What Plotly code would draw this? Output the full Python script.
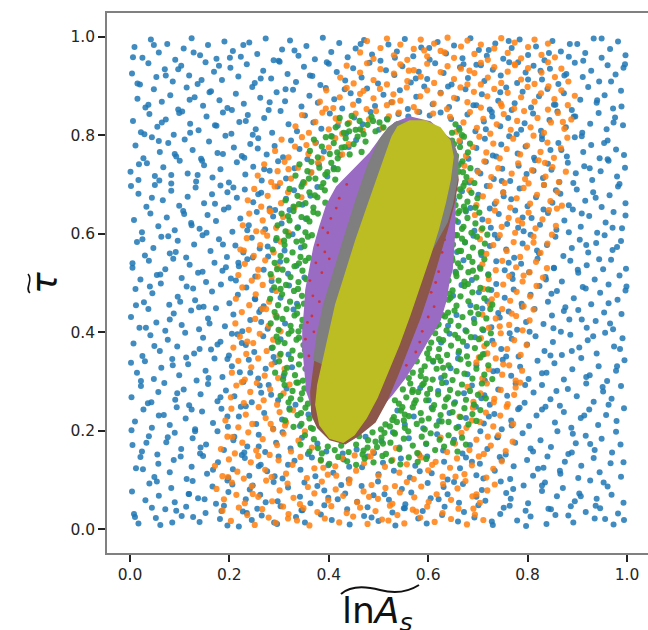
import plotly.graph_objects as go

# ---------------- data (per-mille units, flat x,y pairs) ----------------
BLUE_XY = [
 8,31, 17,12, 44,44, 52,23, 61,9, 93,38, 104,27, 113,46, 140,15, 152,33, 181,21, 189,48, 196,8, 227,36, 245,19, 256,42, 265,28, 296,11, 303,47, 334,25, 345,39, 352,14, 384,30, 391,49, 406,19, 437,41, 442,10, 471,27, 478,45, 500,17, 528,34, 534,8, 551,43, 580,22, 589,37, 597,12, 628,29, 633,46, 660,16, 672,35, 693,24, 701,49, 730,9, 745,31, 752,44, 779,18, 796,38, 806,26, 838,11, 847,41, 856,29, 887,47, 892,14, 917,35, 935,22, 946,43, 973,10, 982,32, 994,19,
 4,77, 31,59, 39,93, 58,68, 83,84, 90,55, 119,72, 126,98, 137,63, 166,87, 173,52, 198,76, 206,91, 233,61, 241,81, 262,70, 289,96, 297,57, 318,85, 342,66, 351,95, 363,53, 391,79, 399,64, 425,90, 433,73, 457,56, 466,88, 490,69, 499,97, 521,60, 547,82, 554,51, 566,75, 599,94, 605,63, 631,86, 639,71, 662,54, 670,92, 697,66, 708,80, 715,58, 746,97, 757,74, 766,62, 792,89, 801,53, 829,78, 835,95, 859,67, 871,84, 895,57, 904,73, 926,99, 939,62, 961,87, 969,70, 993,54,
 12,124, 21,147, 49,106, 57,133, 80,116, 88,141, 114,102, 124,127, 147,149, 155,113, 177,136, 198,104, 207,122, 231,145, 240,109, 263,131, 276,118, 299,148, 307,103, 331,139, 343,121, 366,146, 373,108, 399,130, 409,115, 430,142, 440,101, 467,126, 478,148, 500,112, 509,135, 531,119, 545,144, 563,105, 574,129, 598,148, 607,114, 632,137, 639,101, 664,124, 676,146, 697,110, 704,133, 734,119, 744,147, 765,102, 772,128, 799,141, 811,109, 832,125, 840,148, 866,113, 875,137, 902,104, 908,129, 933,145, 945,116, 967,134, 988,107,
 5,171, 24,158, 38,189, 55,152, 73,177, 90,196, 103,163, 126,185, 141,154, 153,172, 176,199, 189,161, 208,181, 225,151, 236,168, 259,192, 272,157, 294,176, 307,197, 323,164, 346,186, 358,153, 377,174, 395,158, 428,154, 456,162, 474,188, 491,155, 506,179, 529,197, 542,166, 561,185, 582,151, 596,173, 618,193, 630,160, 652,182, 669,154, 684,171, 705,199, 719,163, 740,187, 756,152, 775,176, 790,195, 811,158, 826,181, 847,167, 860,199, 882,153, 897,175, 917,190, 935,161, 949,184, 970,156, 987,172,
 10,219, 27,243, 44,206, 58,231, 80,212, 94,248, 112,225, 131,203, 145,239, 167,216, 184,245, 197,208, 219,229, 233,250, 254,214, 270,236, 288,204, 306,223, 321,246, 342,210, 359,233, 538,241, 553,213, 571,229, 590,205, 607,247, 622,220, 643,236, 661,208, 676,226, 696,249, 712,215, 733,234, 748,203, 767,221, 781,244, 803,210, 818,231, 836,249, 855,217, 873,238, 888,206, 907,226, 924,243, 942,212, 958,232, 979,220, 994,246,
 3,268, 22,291, 36,256, 57,279, 69,297, 91,263, 108,284, 119,252, 142,274, 157,295, 176,260, 193,282, 210,270, 228,299, 245,258, 264,277, 279,293, 298,262, 315,286, 333,253, 584,287, 601,262, 620,281, 636,298, 654,258, 672,276, 688,292, 707,266, 724,253, 741,284, 759,271, 776,296, 794,257, 812,278, 829,293, 846,264, 865,251, 881,285, 899,270, 918,296, 933,259, 952,280, 969,265, 988,291,
 14,318, 30,341, 48,305, 63,328, 85,346, 99,313, 117,335, 134,302, 152,322, 170,347, 186,309, 205,331, 221,319, 239,344, 258,306, 273,326, 292,339, 309,311, 326,329, 610,340, 626,307, 645,327, 660,347, 679,315, 697,333, 714,302, 731,321, 750,344, 767,312, 785,330, 802,305, 820,342, 838,318, 854,337, 873,304, 890,325, 908,348, 925,313, 943,331, 960,301, 978,322, 995,343,
 7,377, 25,352, 41,394, 60,362, 76,385, 95,371, 111,399, 129,357, 147,389, 163,365, 182,381, 199,353, 216,396, 233,374, 250,360, 268,392, 285,368, 303,386, 319,355, 626,379, 643,397, 661,358, 678,372, 694,390, 713,356, 729,383, 747,366, 764,398, 782,351, 799,375, 816,392, 834,362, 851,380, 869,354, 886,395, 904,369, 921,384, 939,357, 956,399, 974,371, 991,388,
 2,431, 19,409, 37,447, 53,420, 71,403, 88,438, 104,415, 123,444, 139,406, 157,428, 173,449, 191,412, 208,436, 226,402, 242,425, 260,441, 277,407, 295,433, 312,418, 329,446, 640,413, 657,435, 675,404, 692,427, 709,448, 727,410, 744,430, 762,442, 779,405, 797,421, 814,447, 832,417, 849,434, 867,401, 884,426, 902,445, 919,409, 937,423, 954,440, 972,406, 989,437,
 11,488, 28,461, 45,479, 62,499, 79,456, 96,472, 114,493, 131,465, 148,452, 165,483, 183,497, 200,459, 217,476, 234,491, 252,467, 269,453, 286,486, 303,470, 320,495, 336,458, 650,474, 667,496, 685,455, 702,481, 719,463, 737,498, 754,470, 772,487, 789,452, 806,476, 824,494, 841,462, 859,484, 876,451, 893,469, 911,492, 928,457, 946,480, 963,497, 981,466, 997,485,
 5,531, 21,507, 38,545, 54,516, 71,528, 87,549, 104,510, 120,537, 137,521, 153,502, 170,541, 186,525, 203,509, 219,534, 236,548, 252,513, 269,527, 285,504, 302,543, 318,519, 335,535, 351,511, 655,523, 671,546, 688,506, 704,532, 721,518, 737,544, 754,526, 770,508, 787,539, 803,522, 820,549, 836,512, 853,530, 869,503, 886,545, 902,521, 919,536, 935,507, 952,528, 968,547, 985,515,
 14,583, 30,556, 47,571, 63,594, 80,560, 96,586, 113,552, 129,578, 146,597, 162,565, 179,589, 195,553, 212,576, 228,562, 245,592, 261,570, 278,554, 294,587, 311,566, 327,599, 344,572, 658,563, 674,582, 691,596, 707,557, 724,575, 740,591, 757,568, 773,551, 790,580, 806,598, 823,560, 839,577, 856,594, 872,555, 889,571, 905,588, 922,562, 938,581, 955,597, 971,567, 988,585,
 8,628, 24,603, 41,641, 57,615, 74,633, 90,607, 107,646, 123,622, 140,610, 156,638, 173,626, 189,649, 206,604, 222,631, 239,617, 255,644, 272,609, 288,635, 305,621, 321,648, 338,613, 354,630, 660,624, 676,645, 693,606, 709,629, 726,612, 742,640, 759,620, 775,647, 792,605, 808,632, 825,618, 841,642, 858,608, 874,627, 891,649, 907,614, 924,636, 940,602, 957,623, 973,644, 990,611,
 17,681, 33,655, 50,699, 66,668, 83,687, 99,657, 116,675, 132,694, 149,662, 165,680, 182,698, 198,653, 215,673, 231,690, 248,664, 264,683, 281,651, 297,696, 314,671, 330,688, 347,659, 363,677, 377,695, 652,669, 668,686, 685,652, 701,679, 718,697, 734,661, 751,684, 767,670, 784,692, 800,656, 817,674, 833,699, 850,663, 866,681, 883,658, 899,690, 916,667, 932,684, 949,654, 965,678, 982,696, 997,662,
 1,726, 17,709, 34,743, 50,717, 67,735, 83,702, 100,748, 116,722, 133,706, 149,739, 166,714, 182,731, 199,704, 215,745, 232,720, 248,736, 265,708, 281,728, 298,747, 314,712, 331,733, 347,701, 364,724, 380,741, 397,716, 410,734, 650,719, 666,742, 683,704, 699,728, 716,746, 732,711, 749,732, 765,707, 782,738, 798,721, 815,749, 831,713, 848,730, 864,705, 881,744, 897,723, 914,737, 930,709, 947,727, 963,748, 980,716, 996,734,
 11,779, 27,753, 44,796, 60,766, 77,784, 93,757, 110,791, 126,770, 143,752, 159,787, 176,764, 192,799, 209,775, 225,758, 242,782, 258,794, 275,761, 291,778, 308,755, 324,789, 341,772, 357,751, 374,785, 390,767, 407,797, 423,760, 440,776, 455,790, 648,768, 664,786, 681,752, 697,774, 714,793, 730,759, 747,781, 763,798, 780,763, 796,777, 813,754, 829,792, 846,770, 862,784, 879,757, 895,796, 912,766, 928,780, 945,753, 961,789, 978,771, 994,760,
 6,829, 22,806, 39,843, 55,817, 72,832, 88,801, 105,848, 121,823, 138,810, 154,838, 171,820, 187,846, 204,803, 220,827, 237,841, 253,812, 270,835, 286,805, 303,849, 319,822, 336,808, 352,840, 369,826, 385,813, 402,844, 418,819, 435,804, 451,836, 468,822, 484,847, 501,811, 517,833, 540,843, 560,838, 582,847, 603,840, 625,846, 646,833, 662,815, 679,842, 695,808, 712,828, 728,847, 745,818, 761,835, 778,802, 794,824, 811,844, 827,809, 844,831, 860,848, 877,816, 893,838, 910,805, 926,823, 943,845, 959,812, 976,836, 992,820,
 15,874, 31,856, 48,893, 64,868, 81,881, 97,852, 114,897, 130,877, 147,860, 163,889, 180,871, 196,855, 213,884, 229,864, 246,898, 262,876, 279,851, 295,887, 312,869, 328,892, 345,858, 361,880, 378,866, 394,896, 411,873, 427,854, 444,885, 460,870, 477,895, 493,859, 510,882, 526,867, 543,891, 559,853, 576,878, 592,899, 609,863, 625,886, 642,857, 658,874, 675,893, 691,861, 708,883, 724,852, 741,870, 757,897, 774,865, 790,888, 807,856, 823,879, 840,894, 856,862, 873,885, 889,851, 906,872, 922,898, 939,866, 955,881, 972,854, 988,890,
 4,925, 20,903, 37,946, 53,918, 70,934, 86,909, 103,941, 119,921, 136,904, 152,948, 169,929, 185,912, 202,937, 218,919, 235,944, 251,906, 268,931, 284,915, 301,949, 317,924, 334,908, 350,939, 367,920, 383,902, 400,945, 416,928, 433,911, 449,936, 466,917, 482,947, 499,905, 515,932, 532,922, 548,940, 565,907, 581,929, 598,914, 614,946, 631,926, 647,903, 664,938, 680,916, 697,943, 713,910, 730,933, 746,921, 763,948, 779,906, 796,927, 812,941, 829,913, 845,935, 862,904, 878,924, 895,947, 911,918, 928,931, 944,909, 961,942, 977,923, 993,937,
 9,979, 25,957, 42,994, 58,968, 75,985, 91,953, 108,976, 124,997, 141,962, 157,983, 174,955, 190,990, 207,971, 223,959, 240,988, 256,965, 273,996, 289,952, 306,974, 322,992, 339,961, 355,981, 372,954, 388,998, 405,969, 421,987, 438,958, 454,976, 471,993, 487,964, 504,951, 520,984, 537,970, 553,995, 570,960, 586,978, 603,953, 619,989, 636,966, 652,982, 669,956, 685,997, 702,973, 718,961, 735,986, 751,955, 768,977, 784,994, 801,963, 817,980, 834,952, 850,991, 867,970, 883,959, 900,985, 916,967, 933,996, 949,957, 966,975, 982,990, 997,962,
]

BLUE_EXTRA_XY = [
 15,905, 72,921, 128,968, 201,957, 263,915, 37,862, 99,845, 160,887, 233,829, 281,867, 58,788, 121,805, 187,762, 247,801, 18,741, 83,719, 145,748, 208,694, 270,731, 44,673, 109,640, 171,661, 236,607, 292,648, 25,589, 92,563, 154,602, 218,541, 277,574, 61,517, 127,489, 193,532, 251,468, 12,455, 80,426, 139,451, 205,397, 264,421, 49,372, 113,349, 176,375, 242,318, 289,350, 22,301, 95,276, 158,307, 223,249, 284,273, 68,232, 131,199, 196,229, 259,168, 33,176, 102,148, 167,121, 230,156, 291,108, 54,97, 118,72, 184,37, 247,89, 10,25, 85,14, 150,61, 219,6, 273,55,
 6,958, 48,983, 97,934, 144,912, 179,941, 228,983, 299,951, 120,872, 205,851, 64,826, 29,802, 174,819, 257,773, 90,762, 136,719, 230,754, 2,697, 59,708, 196,684, 258,680, 124,617, 77,595, 187,578, 247,552, 5,540, 146,523, 40,493, 213,505, 101,462, 263,446, 160,418, 32,409, 225,378, 86,333, 140,366, 2,338, 196,346, 261,292, 43,258, 124,243, 182,268, 3,201, 76,187, 210,188, 142,166, 259,128, 26,122, 196,99, 71,41, 127,25, 235,33, 290,14,
 722,973, 781,948, 843,967, 912,951, 968,909, 745,887, 801,913, 874,921, 940,871, 989,858, 716,812, 768,851, 829,799, 896,838, 954,784, 737,757, 812,728, 868,770, 925,733, 985,701, 752,676, 790,633, 857,688, 909,641, 971,612, 734,598, 819,566, 883,603, 944,548, 998,529, 769,517, 848,478, 901,527, 963,459, 741,439, 804,401, 873,443, 932,392, 986,366, 757,351, 829,317, 889,362, 951,289, 713,272, 784,247, 858,281, 914,231, 978,198, 739,187, 806,164, 865,119, 926,173, 993,136, 711,103, 771,82, 842,42, 907,67, 956,21, 728,16, 797,7,
 706,942, 762,991, 826,931, 885,985, 949,996, 996,944, 729,838, 787,811, 853,862, 909,798, 973,826, 705,722, 748,707, 841,742, 892,703, 961,751, 724,651, 781,612, 832,649, 937,673, 997,637, 708,563, 762,541, 853,531, 918,577, 980,573, 727,486, 788,458, 837,507, 917,489, 999,493, 711,404, 768,387, 852,408, 909,426, 966,418, 739,322, 795,293, 846,353, 918,309, 980,331, 722,229, 768,211, 829,243, 891,194, 963,253, 748,141, 821,123, 889,156, 953,95, 764,48, 829,89, 882,28, 937,48,
 318,131, 377,88, 441,127, 512,71, 583,118, 652,96, 347,39, 418,61, 486,24, 553,43, 621,61, 688,137, 331,972, 396,948, 464,985, 533,957, 602,977, 671,944, 362,921, 432,893, 575,915, 640,899, 313,893, 697,861,
]

ORANGE_XY = [
 186,38, 203,17, 219,44, 236,29, 251,9, 266,41, 279,24, 293,13, 308,46, 319,31, 336,18, 349,43, 361,8, 377,35, 392,22, 405,47, 421,14, 436,33, 449,26, 463,44, 478,11, 494,37, 507,20, 523,48, 538,29, 552,12, 569,40, 584,24, 598,46, 613,15, 629,33, 646,21, 661,42, 678,10, 694,30, 711,19,
 174,82, 189,61, 205,95, 214,70, 231,53, 245,88, 258,66, 274,99, 286,57, 301,79, 317,93, 329,64, 342,51, 358,86, 371,73, 386,97, 399,59, 414,81, 429,68, 441,94, 457,55, 470,77, 486,90, 499,62, 514,84, 528,52, 543,75, 557,96, 572,65, 586,87, 601,56, 617,71, 630,92, 646,60, 659,83, 675,98, 689,67, 704,54, 719,79, 734,91,
 171,129, 186,108, 199,142, 216,117, 229,103, 243,136, 258,149, 272,121, 285,106, 299,140, 314,113, 327,131, 343,147, 356,104, 371,124, 384,139, 398,111, 413,128, 427,145, 442,101, 455,119, 471,134, 484,148, 500,109, 513,127, 528,141, 542,115, 557,132, 571,102, 586,146, 600,120, 615,137, 629,107, 644,125, 658,144, 673,112, 688,130, 702,148, 717,105, 731,123, 748,138,
 183,163, 196,188, 211,154, 226,176, 238,197, 254,160, 267,183, 281,151, 296,171, 309,194, 324,158, 339,180, 352,199, 366,166, 625,186, 638,157, 654,174, 667,196, 683,161, 697,182, 712,153, 726,170, 741,191, 756,159, 770,178, 489,158, 535,165, 580,154,
 192,221, 204,245, 218,207, 233,233, 246,214, 259,248, 273,226, 288,203, 301,238, 314,217, 328,242, 663,229, 677,206, 690,247, 704,218, 716,237, 731,209, 745,231, 758,249, 771,214, 312,211, 688,221,
 203,268, 214,292, 229,256, 242,279, 255,297, 269,262, 282,284, 296,253, 309,276, 321,294, 679,289, 691,259, 705,276, 718,296, 733,265, 746,283, 760,254, 773,273, 785,298,
 205,318, 218,342, 231,304, 244,329, 258,347, 271,312, 285,335, 298,307, 311,326, 697,339, 709,306, 722,325, 736,347, 749,314, 763,333, 776,302, 789,322, 702,349,
 208,369, 221,391, 234,356, 248,378, 261,397, 275,362, 288,385, 301,353, 706,388, 719,357, 732,376, 746,398, 759,366, 773,384, 786,354, 798,374, 713,372,
 212,418, 225,441, 239,405, 252,427, 266,447, 279,413, 293,434, 303,402, 709,436, 722,409, 736,428, 749,447, 763,415, 777,433, 790,404, 804,424, 812,446,
 213,468, 226,491, 240,455, 253,477, 267,496, 280,462, 294,484, 711,488, 724,457, 738,476, 751,497, 765,464, 778,482, 792,453, 805,473, 818,494, 728,467,
 218,516, 231,539, 245,505, 258,527, 272,546, 285,512, 297,533, 709,538, 722,508, 736,526, 749,545, 763,514, 777,532, 790,503, 804,522, 817,543, 831,511, 839,530,
 222,568, 235,591, 249,555, 262,577, 276,596, 289,562, 303,584, 704,589, 717,559, 731,577, 744,597, 758,565, 772,583, 785,553, 799,572, 812,594, 826,561, 840,580, 849,598,
 227,617, 240,641, 254,605, 267,627, 281,646, 294,612, 308,634, 318,603, 694,638, 707,608, 721,626, 734,647, 748,614, 762,632, 775,602, 789,621, 802,643, 816,611, 830,629, 843,648, 857,616,
 237,668, 250,691, 264,655, 277,677, 291,696, 304,662, 318,684, 331,653, 345,674, 683,688, 697,658, 710,676, 724,697, 737,665, 751,683, 765,653, 778,672, 792,693, 805,661, 819,679, 833,699, 846,666, 860,685, 869,657,
 257,718, 270,741, 284,705, 297,727, 311,746, 324,712, 338,734, 351,703, 365,725, 378,744, 673,738, 686,708, 700,726, 713,747, 727,715, 741,733, 754,703, 768,722, 781,743, 795,711, 809,729, 822,749, 836,716, 850,735, 863,705, 877,726,
 292,768, 305,791, 319,755, 332,777, 346,796, 359,762, 373,784, 386,753, 400,775, 413,794, 427,761, 440,782, 663,789, 676,758, 690,776, 703,797, 717,765, 731,783, 744,753, 758,772, 771,793, 785,761, 799,779, 812,799, 826,766, 840,785, 853,754, 867,774, 880,795,
 333,818, 346,841, 360,805, 373,827, 387,846, 400,812, 414,834, 427,803, 441,825, 454,844, 468,810, 481,832, 495,849, 508,815, 521,838, 644,837, 657,807, 671,826, 684,847, 698,815, 711,833, 725,803, 738,822, 752,843, 766,811, 779,829, 793,849, 806,816, 820,835, 833,805, 847,826, 861,845, 874,813, 888,832, 541,846, 578,848, 610,844,
 382,868, 395,891, 409,855, 422,877, 436,896, 449,862, 463,884, 476,853, 490,875, 503,894, 517,861, 530,883, 544,870, 557,897, 571,857, 584,879, 598,891, 611,864, 625,885, 638,853, 652,876, 665,897, 679,867, 692,888, 706,856, 719,879, 733,894, 746,864, 760,886, 773,854, 787,877, 800,898, 814,868, 827,885, 841,852, 854,873, 868,891, 881,861, 895,880,
 423,917, 436,941, 450,905, 463,927, 477,946, 490,912, 504,934, 517,903, 531,925, 544,944, 558,910, 571,932, 585,919, 598,945, 612,906, 625,928, 639,940, 652,914, 666,935, 679,903, 693,926, 706,947, 720,917, 733,938, 747,906, 760,929, 774,944, 787,913, 801,936, 814,904, 828,927, 841,948, 855,918, 868,935, 882,909,
 463,968, 477,991, 490,955, 504,977, 517,996, 531,962, 544,984, 558,953, 571,975, 585,994, 598,960, 612,986, 625,971, 639,998, 652,957, 666,980, 679,992, 693,965, 706,984, 720,953, 733,976, 747,997, 760,967, 774,988, 787,956, 801,979, 814,994, 828,963, 841,986, 855,958,
]

ORANGE_EXTRA_XY = [
 247,72, 318,22, 415,109, 533,88, 608,131, 691,42, 206,187, 283,214, 236,381, 274,447, 229,566, 268,604, 302,703, 355,780, 420,828, 470,890, 561,931, 633,968, 706,903, 775,942, 842,899, 871,827, 835,744, 859,651, 812,582, 792,515, 768,438, 751,335, 732,258, 720,188, 655,107, 576,36, 481,66, 389,125, 197,106, 225,299, 257,513, 283,645, 319,731, 394,854, 528,867, 592,972, 683,931, 748,859, 802,702, 781,627, 744,412, 776,288, 697,71, 520,18, 452,150,
]

GREEN_XY = [
 384,141, 401,133, 419,147, 437,138, 455,131, 472,144, 490,136, 508,149, 526,139, 544,132, 561,146, 579,137, 596,143,
 343,172, 352,191, 361,158, 370,183, 378,165, 386,154, 398,168, 412,161, 425,170, 440,157, 455,172, 461,189, 470,160, 479,181, 488,197, 497,167, 506,186, 515,153, 524,176, 533,194, 542,163, 551,184, 560,199, 569,170, 578,155, 587,188, 596,174, 605,195, 614,161, 623,182, 632,168, 641,191, 650,176, 659,158, 668,186, 676,172,
 312,221, 321,243, 329,208, 337,232, 345,214, 353,247, 361,225, 368,204, 376,238, 344,236, 505,203, 514,213, 523,209, 531,228, 537,218, 545,241, 553,206, 561,230, 569,248, 577,214, 585,236, 593,203, 601,225, 609,244, 617,211, 625,232, 633,249, 641,218, 649,238, 657,206, 665,228, 673,246, 681,213, 689,234, 697,220, 705,242, 627,219, 587,221, 551,221,
 303,271, 311,293, 319,258, 327,281, 335,298, 343,264, 351,286, 358,255, 324,266, 346,276, 533,262, 541,255, 549,284, 556,268, 564,296, 572,256, 580,279, 588,293, 596,262, 604,285, 612,252, 620,274, 628,297, 636,264, 644,283, 652,255, 660,276, 668,294, 676,263, 684,281, 692,253, 700,273, 708,296, 716,266, 568,279, 598,275, 640,268,
 292,318, 300,341, 308,304, 316,328, 324,346, 332,313, 340,335, 348,302, 353,326, 311,317, 561,307, 569,318, 577,341, 585,311, 593,331, 601,347, 609,304, 617,326, 625,342, 633,312, 641,333, 649,303, 657,321, 665,345, 673,316, 681,336, 689,306, 697,326, 705,349, 713,314, 721,333, 729,305, 595,305, 630,328,
 287,369, 295,391, 303,356, 311,378, 319,397, 327,363, 335,385, 343,353, 349,374, 298,381, 582,372, 590,390, 598,357, 606,379, 614,398, 622,366, 630,384, 638,354, 646,373, 654,395, 662,362, 670,381, 678,351, 686,390, 694,368, 702,386, 710,355, 718,377, 726,398, 620,350, 660,388,
 283,418, 291,441, 299,405, 307,427, 315,447, 323,413, 331,434, 339,402, 347,425, 295,430, 325,403, 598,411, 605,432, 613,449, 621,416, 629,435, 637,404, 645,423, 653,444, 661,413, 669,431, 677,402, 685,440, 693,419, 701,437, 709,406, 717,428, 725,447, 640,440, 611,420,
 282,468, 290,491, 298,455, 306,477, 314,496, 322,462, 330,484, 338,453, 346,474, 303,488, 618,461, 625,480, 633,497, 641,466, 649,485, 657,454, 665,473, 673,494, 681,463, 689,481, 697,451, 705,490, 713,469, 721,487, 729,456, 645,470, 680,498,
 283,518, 291,541, 299,505, 307,527, 315,546, 323,512, 331,534, 339,502, 347,525, 353,545, 296,528, 633,507, 641,527, 649,546, 657,514, 665,532, 673,503, 681,522, 689,543, 697,511, 705,529, 713,548, 721,516, 660,540, 690,525,
 287,568, 295,591, 303,555, 311,577, 319,596, 327,562, 335,584, 343,553, 351,575, 358,594, 310,586, 643,559, 650,578, 658,597, 666,565, 674,583, 682,553, 690,572, 698,594, 706,562, 714,580, 719,598, 668,590,
 297,617, 305,641, 313,605, 321,627, 329,646, 337,612, 345,634, 353,603, 361,625, 369,644, 318,636, 648,608, 655,627, 663,646, 671,614, 679,632, 687,602, 695,621, 703,643, 709,611, 675,648,
 313,668, 321,691, 329,655, 337,677, 345,696, 353,662, 361,684, 369,653, 377,674, 385,695, 393,663, 340,660, 648,688, 655,658, 663,676, 671,697, 679,665, 687,683, 695,653, 699,672,
 333,718, 341,741, 349,705, 357,727, 365,746, 373,712, 381,734, 389,703, 397,725, 405,744, 413,710, 418,731, 360,712, 646,738, 653,708, 661,726, 669,747, 677,715, 685,733, 693,703, 674,704,
 362,768, 370,791, 378,755, 386,777, 394,796, 402,762, 410,784, 418,753, 426,775, 434,794, 442,761, 450,782, 458,797, 466,766, 474,787, 405,798, 648,789, 656,758, 664,776, 672,797, 680,765, 684,783,
 414,816, 422,835, 430,805, 438,823, 446,839, 454,811, 462,829, 470,802, 478,821, 486,837, 494,808, 502,826, 510,816, 518,832, 648,805, 655,822, 663,811, 668,800,
]

GREEN_EXTRA_XY = [
 358,322, 352,364, 346,412, 350,458, 354,508, 360,551, 366,597, 378,641, 392,688, 410,731, 432,776, 463,812, 489,829, 652,782, 660,738, 664,690, 660,642, 655,597, 648,551, 641,505, 628,458, 616,412, 602,367, 586,322, 569,283, 548,248, 528,222, 512,196, 494,178, 478,166, 364,206, 372,232, 366,265, 338,298, 340,389, 336,438, 338,488, 340,540, 346,586, 356,631, 372,678, 393,720, 417,765, 441,808, 670,725, 672,655, 668,610, 662,565, 656,520, 643,478, 634,432, 622,386, 610,342, 591,296, 575,262, 553,233, 532,196, 509,174, 468,152,
]

RED_XY = [
 357,420, 381,462, 362,505, 374,541, 398,602, 368,474, 353,386, 366,433, 392,563, 404,631, 421,672, 436,700, 360,352, 370,401, 386,521, 415,652, 378,577, 401,549, 388,612,
 575,360, 588,402, 612,452, 556,333, 606,481, 621,523, 600,431, 583,380, 628,562, 615,501, 633,588,
]

# dense inner regions: outlines (data units)
PURPLE_X = [0.509, 0.483, 0.453, 0.416, 0.396, 0.382, 0.370, 0.362, 0.354, 0.352, 0.348, 0.348, 0.350, 0.352, 0.356, 0.366, 0.378, 0.402, 0.433, 0.467, 0.499, 0.527, 0.553, 0.579, 0.600, 0.624, 0.636, 0.642, 0.648, 0.652, 0.654, 0.652, 0.648, 0.634, 0.604, 0.563, 0.533]
PURPLE_Y = [0.800, 0.764, 0.733, 0.695, 0.658, 0.614, 0.571, 0.527, 0.486, 0.452, 0.405, 0.370, 0.345, 0.319, 0.279, 0.252, 0.226, 0.206, 0.182, 0.206, 0.242, 0.273, 0.307, 0.348, 0.385, 0.425, 0.466, 0.506, 0.527, 0.587, 0.658, 0.719, 0.760, 0.800, 0.827, 0.837, 0.825]
BROWN_X = [0.523, 0.584, 0.636, 0.656, 0.660, 0.652, 0.638, 0.622, 0.604, 0.584, 0.561, 0.539, 0.517, 0.493, 0.459, 0.433, 0.402, 0.378, 0.366, 0.364, 0.370, 0.378, 0.392, 0.410, 0.435, 0.459, 0.487]
BROWN_Y = [0.770, 0.807, 0.790, 0.749, 0.709, 0.662, 0.608, 0.553, 0.492, 0.431, 0.370, 0.315, 0.262, 0.218, 0.190, 0.174, 0.182, 0.206, 0.232, 0.279, 0.327, 0.385, 0.450, 0.514, 0.591, 0.668, 0.746]
GRAY_X = [0.370, 0.377, 0.390, 0.408, 0.431, 0.455, 0.479, 0.502, 0.520, 0.537, 0.604, 0.648, 0.660, 0.658, 0.648, 0.638, 0.563, 0.423]
GRAY_Y = [0.344, 0.395, 0.456, 0.517, 0.591, 0.668, 0.739, 0.790, 0.815, 0.827, 0.821, 0.790, 0.756, 0.709, 0.658, 0.624, 0.486, 0.320]
OLIVE_X = [0.527, 0.539, 0.563, 0.594, 0.624, 0.644, 0.650, 0.644, 0.634, 0.620, 0.604, 0.584, 0.563, 0.541, 0.519, 0.497, 0.475, 0.451, 0.429, 0.402, 0.382, 0.374, 0.378, 0.388, 0.400, 0.414, 0.433, 0.455, 0.479, 0.503]
OLIVE_Y = [0.796, 0.817, 0.829, 0.829, 0.815, 0.788, 0.756, 0.709, 0.662, 0.608, 0.557, 0.496, 0.435, 0.374, 0.319, 0.267, 0.226, 0.192, 0.177, 0.185, 0.212, 0.253, 0.293, 0.340, 0.395, 0.456, 0.517, 0.588, 0.658, 0.729]

X_TICKS = [0.0, 0.2, 0.4, 0.6, 0.8, 1.0]
X_TICK_TEXT = ["0.0", "0.2", "0.4", "0.6", "0.8", "1.0"]
Y_TICKS = [0.0, 0.2, 0.4, 0.6, 0.8, 1.0]
Y_TICK_TEXT = ["0.0", "0.2", "0.4", "0.6", "0.8", "1.0"]

BLUE = "#1f77b4"
ORANGE = "#ff7f0e"
GREEN = "#2ca02c"
RED = "#d62728"
PURPLE = "#9a6bc2"
BROWN = "#8c564b"
GRAY = "#7f7f7f"
OLIVE = "#bcbd22"


def split(flat):
    return [v / 1000 for v in flat[0::2]], [v / 1000 for v in flat[1::2]]


fig = go.Figure()


def add_points(flat, color, size, opacity):
    x, y = split(flat)
    fig.add_trace(go.Scatter(x=x, y=y, mode="markers", hoverinfo="skip",
                             marker=dict(color=color, size=size, opacity=opacity,
                                         line=dict(width=0)),
                             showlegend=False))


def add_blob(x, y, color):
    fig.add_trace(go.Scatter(x=x + x[:1], y=y + y[:1], mode="lines", fill="toself",
                             fillcolor=color, hoverinfo="skip",
                             line=dict(color=color, width=1.5),
                             showlegend=False))


add_points(BLUE_XY + BLUE_EXTRA_XY, BLUE, 6.0, 0.85)
add_points(ORANGE_XY + ORANGE_EXTRA_XY, ORANGE, 6.2, 0.85)
add_points(GREEN_XY + GREEN_EXTRA_XY, GREEN, 6.2, 0.9)
add_blob(PURPLE_X, PURPLE_Y, PURPLE)
add_points(RED_XY, RED, 2.8, 0.85)
add_blob(BROWN_X, BROWN_Y, BROWN)
add_blob(GRAY_X, GRAY_Y, GRAY)
add_blob(OLIVE_X, OLIVE_Y, OLIVE)

L, T, W, H = 107, 13, 648, 630
PW, PH = W - L, 540


def px(xp, yp):
    return (xp - L) / PW, (T + PH - yp) / PH


def path(points):
    p = [px(*pt) for pt in points]
    s = "M %.4f,%.4f" % p[0]
    for i in range(1, len(p), 3):
        s += " C %.4f,%.4f %.4f,%.4f %.4f,%.4f" % (p[i] + p[i + 1] + p[i + 2])
    return s


axis_common = dict(showgrid=False, zeroline=False, showline=True, linecolor="#808080",
                   linewidth=1.5, ticks="outside", ticklen=7, tickwidth=1.5,
                   tickcolor="#222222", tickfont=dict(family="DejaVu Sans", size=15.5, color="#262626"))

fig.update_layout(
    width=W, height=H,
    margin=dict(l=L, r=0, t=T, b=H - T - PH),
    plot_bgcolor="white", paper_bgcolor="white",
    font=dict(family="DejaVu Sans"),
    xaxis=dict(range=[-0.0463, 1.0423], tickmode="array", tickvals=X_TICKS,
               ticktext=X_TICK_TEXT, mirror=True, **axis_common),
    yaxis=dict(range=[-0.048, 1.048], tickmode="array", tickvals=Y_TICKS,
               ticktext=Y_TICK_TEXT, **axis_common),
    annotations=[
        dict(text="ln<i>A</i><sub><i>s</i></sub>", xref="paper", yref="paper",
             x=px(377, 0)[0], y=px(0, 613)[1], xanchor="center", yanchor="middle",
             showarrow=False, font=dict(family="DejaVu Sans", size=36, color="#111111")),
        dict(text="<i>τ</i>", xref="paper", yref="paper", textangle=-90,
             x=px(44, 0)[0], y=px(0, 283)[1], xanchor="center", yanchor="middle",
             showarrow=False, font=dict(family="DejaVu Sans", size=36, color="#111111")),
    ],
    shapes=[
        dict(type="path", xref="paper", yref="paper",
             path=path([(341, 594), (350, 586), (365, 586), (380, 590),
                        (395, 594), (408, 592), (419, 585)]),
             line=dict(color="#111111", width=2)),
        dict(type="path", xref="paper", yref="paper",
             path=path([(30, 293), (24, 288), (34, 281), (28, 274)]),
             line=dict(color="#111111", width=1.6)),
    ],
)

fig.write_html("out.html")
